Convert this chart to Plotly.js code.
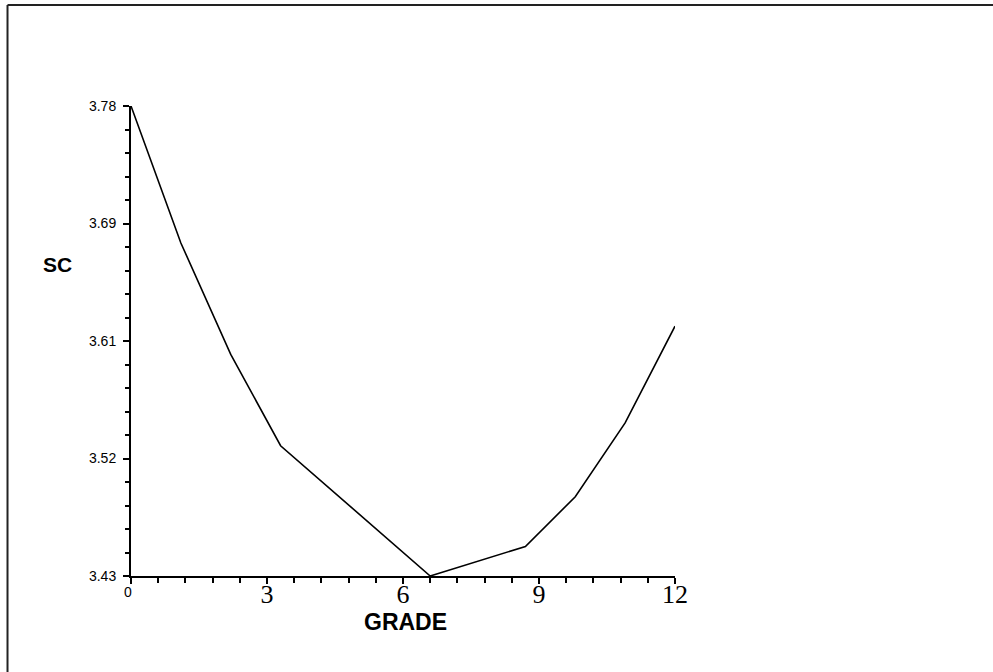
<!DOCTYPE html>
<html>
<head>
<meta charset="utf-8">
<script src="https://cdn.plot.ly/plotly-3.0.1.min.js"></script>
<style>
  html, body { margin: 0; padding: 0; background: #fff; }
  #chart { width: 993px; height: 672px; }
</style>
</head>
<body>
<div id="chart"></div>
<script>
// SC score by grade
const grade = [0, 1.1, 2.2, 3.3, 6.6, 8.7, 9.8, 10.9, 12];
const sc = [3.78, 3.678, 3.595, 3.527, 3.43, 3.452, 3.489, 3.544, 3.616];

// Axis ticks
const yTickVals = [3.43, 3.5175, 3.605, 3.6925, 3.78];
const yTickText = ['3.43', '3.52', '3.61', '3.69', '3.78'];
const xTickVals = [0, 3, 6, 9, 12];
const xTickText = ['', '3', '6', '9', '12'];

const sans = 'Liberation Sans, Arial, sans-serif';
const serif = 'Liberation Serif, Times New Roman, serif';

const trace = {
  x: grade,
  y: sc,
  type: 'scatter',
  mode: 'lines',
  line: { color: '#000', width: 1.6 },
  hoverinfo: 'x+y'
};

const layout = {
  width: 993,
  height: 672,
  margin: { l: 131, r: 318, t: 106, b: 96, pad: 0 },
  paper_bgcolor: '#fff',
  plot_bgcolor: '#fff',
  showlegend: false,
  xaxis: {
    range: [0, 12],
    tickmode: 'array',
    tickvals: xTickVals,
    ticktext: xTickText,
    ticks: 'outside',
    ticklen: 6,
    tickwidth: 2,
    tickcolor: '#000',
    tickfont: { family: serif, size: 26, color: '#000' },
    ticklabelstandoff: -12,
    minor: { tick0: 0, dtick: 0.6, ticks: 'outside', ticklen: 5, tickwidth: 2, tickcolor: '#000', showgrid: false },
    showline: true,
    linecolor: '#000',
    linewidth: 2,
    showgrid: false,
    zeroline: false,
    fixedrange: true
  },
  yaxis: {
    range: [3.43, 3.78],
    tickmode: 'array',
    tickvals: yTickVals,
    ticktext: yTickText,
    ticks: 'outside',
    ticklen: 6,
    tickwidth: 2,
    tickcolor: '#000',
    tickfont: { family: sans, size: 14, color: '#000' },
    ticklabelstandoff: 4,
    minor: { tick0: 3.43, dtick: 0.0175, ticks: 'outside', ticklen: 4, tickwidth: 2, tickcolor: '#000', showgrid: false },
    showline: true,
    linecolor: '#000',
    linewidth: 2,
    showgrid: false,
    zeroline: false,
    fixedrange: true
  },
  annotations: [
    {
      text: 'SC', xref: 'paper', yref: 'paper', x: -0.136, y: 0.6628,
      xanchor: 'center', yanchor: 'middle', showarrow: false,
      font: { family: sans, size: 21, color: '#000', weight: 'bold' }
    },
    {
      text: 'GRADE', xref: 'paper', yref: 'paper', x: 0.5046, y: -0.098,
      xanchor: 'center', yanchor: 'middle', showarrow: false,
      font: { family: sans, size: 23, color: '#000', weight: 'bold' }
    },
    {
      text: '0', xref: 'paper', yref: 'paper', x: -0.0055, y: -0.034,
      xanchor: 'center', yanchor: 'middle', showarrow: false,
      font: { family: sans, size: 14, color: '#000' }
    }
  ],
  shapes: [
    // frame edges along the left and top of the page
    { type: 'line', xref: 'paper', yref: 'paper', x0: -0.2270, x1: -0.2270, y0: 1.2149, y1: -0.2100,
      line: { color: '#222', width: 2 } },
    { type: 'line', xref: 'paper', yref: 'paper', x0: -0.2270, x1: 1.6000, y0: 1.2149, y1: 1.2149,
      line: { color: '#222', width: 2 } }
  ]
};

Plotly.newPlot('chart', [trace], layout, { displayModeBar: false, staticPlot: true });
</script>
</body>
</html>
